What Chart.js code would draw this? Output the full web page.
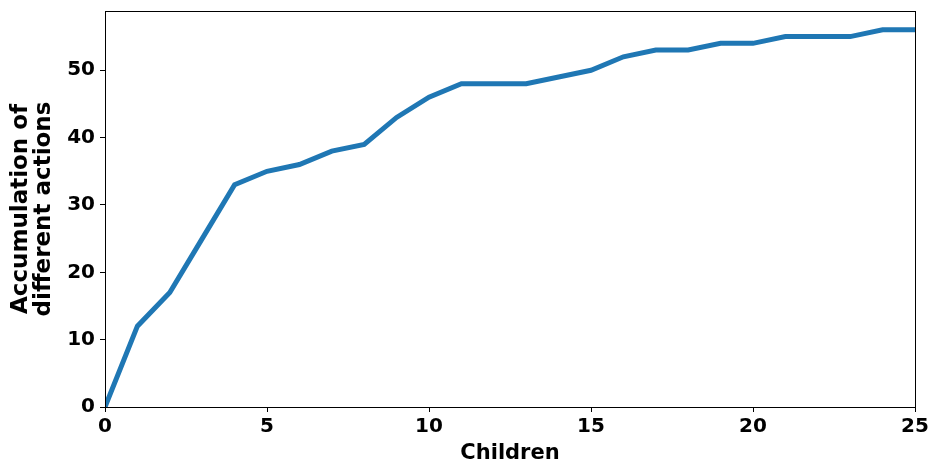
<!DOCTYPE html>
<html>
<head>
<meta charset="utf-8">
<script src="https://cdn.jsdelivr.net/npm/chart.js@4/dist/chart.umd.min.js"></script>
<style>
  html, body { margin: 0; padding: 0; background: #fff; }
  #wrap { width: 935px; height: 463px; }
</style>
</head>
<body>
<div id="wrap"><canvas id="chart" width="935" height="463"></canvas></div>
<script>
var children = [0,1,2,3,4,5,6,7,8,9,10,11,12,13,14,15,16,17,18,19,20,21,22,23,24,25];
var actions  = [0,12,17,25,33,35,36,38,39,43,46,48,48,48,49,50,52,53,53,54,54,55,55,55,56,56];
var yTicks = [0,10,20,30,40,50];
var xTicks = [0,5,10,15,20,25];

var points = children.map(function(c, i){ return {x: c, y: actions[i]}; });

// box around the plot, like matplotlib's spines
var frame = {
  id: 'frame',
  afterDraw: function(chart){
    var a = chart.chartArea, ctx = chart.ctx;
    ctx.save();
    ctx.strokeStyle = '#000';
    ctx.lineWidth = 1;
    ctx.strokeRect(a.left + 0.5, a.top + 0.5, a.right - a.left, a.bottom - a.top);
    ctx.restore();
  }
};

var tickFont = {family: 'DejaVu Sans', size: 20, weight: 'bold'};

new Chart(document.getElementById('chart'), {
  type: 'line',
  data: {
    datasets: [{
      data: points,
      borderColor: '#1f77b4',
      borderWidth: 5,
      pointRadius: 0,
      tension: 0,
      fill: false
    }]
  },
  options: {
    responsive: false,
    animation: false,
    layout: {padding: {top: 11, right: 20, left: 0, bottom: 0}},
    plugins: {legend: {display: false}, tooltip: {enabled: false}},
    scales: {
      x: {
        type: 'linear',
        min: 0, max: 25,
        afterFit: function(s){ s.height = 56; s.paddingLeft = 0; s.paddingRight = 0; },
        afterBuildTicks: function(s){ s.ticks = xTicks.map(function(v){ return {value: v}; }); },
        grid: {drawOnChartArea: false, drawTicks: true, tickLength: 5, tickColor: '#000'},
        border: {color: '#000'},
        ticks: {color: '#000', font: tickFont, padding: 3, maxRotation: 0},
        title: {display: true, text: 'Children', color: '#000', font: {family: 'DejaVu Sans', size: 21, weight: 'bold'}, padding: {top: 0, bottom: -3}}
      },
      y: {
        min: 0, max: 58.8,
        afterFit: function(s){ s.width = 105; s.paddingTop = 0; s.paddingBottom = 0; },
        afterBuildTicks: function(s){ s.ticks = yTicks.map(function(v){ return {value: v}; }); },
        grid: {drawOnChartArea: false, drawTicks: true, tickLength: 5, tickColor: '#000'},
        border: {color: '#000'},
        ticks: {color: '#000', font: tickFont, padding: 5},
        title: {display: true, text: ['Accumulation of', 'different actions'], color: '#000', font: {family: 'DejaVu Sans', size: 23, weight: 'bold', lineHeight: 1.0}, padding: {top: 10, bottom: 0}}
      }
    }
  },
  plugins: [frame]
});
</script>
</body>
</html>
